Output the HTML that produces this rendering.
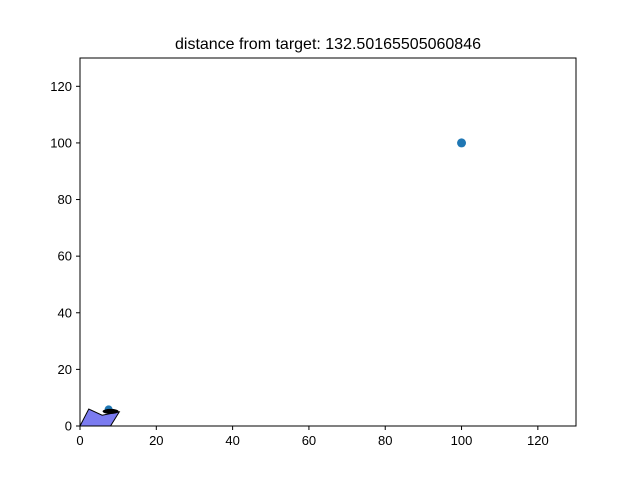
<!DOCTYPE html>
<html><head><meta charset="utf-8"><style>
body{margin:0;background:#fff;font-family:"Liberation Sans","DejaVu Sans",sans-serif}
</style></head><body>
<svg width="640" height="480" id="c" xmlns="http://www.w3.org/2000/svg">
<rect width="640" height="480" fill="#fff"/>
<text x="328" y="49" text-anchor="middle" font-size="16">distance from target: 132.50165505060846</text>
<g id="marks"></g>
<rect x="80" y="58" width="496" height="368" fill="none" stroke="#000" stroke-width="1"/>
<g id="ticks" font-size="13"></g>
</svg>
<script>
const xTicks=[0,20,40,60,80,100,120];
const yTicks=[0,20,40,60,80,100,120];
const target=[100,100];
const agent=[7.5,5.5];
const boatX=[0,2.3,5.8,10.3,8];
const boatY=[0,6,3.8,5,0];
const X=v=>80+v*496/130, Y=v=>426-v*368/130;
const NS="http://www.w3.org/2000/svg";
const m=document.getElementById('marks'), t=document.getElementById('ticks');
function mk(p,tag,a){const e=document.createElementNS(NS,tag);for(const k in a)e.setAttribute(k,a[k]);p.appendChild(e);return e;}
const poly=mk(m,'polygon',{points:boatX.map((x,i)=>X(x)+','+Y(boatY[i])).join(' '),fill:'#7b7bf0',stroke:'#000','stroke-width':1});


const ag=mk(m,'circle',{cx:X(agent[0]),cy:Y(agent[1])-1,r:4,fill:'#1f77b4'});


const bar=mk(m,'ellipse',{cx:X(agent[0])+2,cy:Y(agent[1])+1,rx:8,ry:2.5,fill:'#000'});


const tg=mk(m,'circle',{cx:X(target[0]),cy:Y(target[1]),r:4.5,fill:'#1f77b4'});


xTicks.forEach(v=>{
 const l=mk(t,'line',{x1:X(v),x2:X(v),y1:426,y2:430,stroke:'#000'});
 
 
 const s=mk(t,'text',{x:X(v),y:445,'text-anchor':'middle'});s.textContent=v;
 
 
});
yTicks.forEach(v=>{
 const l=mk(t,'line',{x1:76,x2:80,y1:Y(v),y2:Y(v),stroke:'#000'});
 
 
 const s=mk(t,'text',{x:72,y:Y(v)+4.5,'text-anchor':'end'});s.textContent=v;
 
 
});
</script>
</body></html>
